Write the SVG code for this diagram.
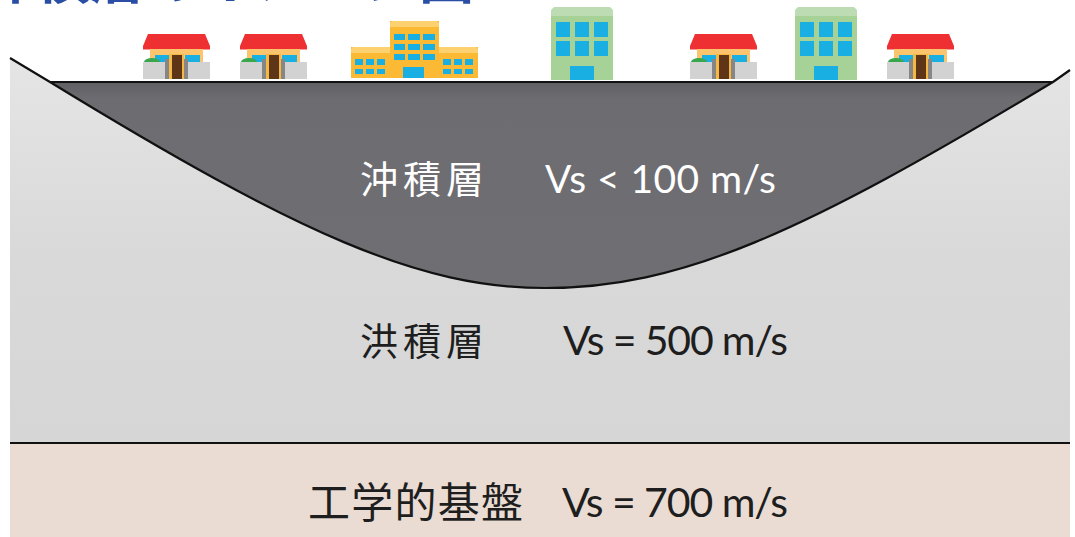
<svg xmlns="http://www.w3.org/2000/svg" width="1075" height="537" viewBox="0 0 1075 537">
  <defs>
    <style>
      .cjk { font-family: "Noto Sans CJK JP", "Noto Sans CJK SC", sans-serif; }
      .lat { font-family: "Lato", "Liberation Sans", sans-serif; }
      .light { fill: #ffffff; }
      .dark { fill: #1e1e1e; }
      .win { fill: #1aafe3; }
      .edge { fill: none; stroke: #111111; stroke-width: 2.2; stroke-linejoin: round; }
    </style>
    <linearGradient id="gravel" x1="0" y1="0" x2="0" y2="1">
      <stop offset="0" stop-color="#e5e5e5"/>
      <stop offset="0.5" stop-color="#d9d9d9"/>
      <stop offset="1" stop-color="#d6d6d6"/>
    </linearGradient>
    <linearGradient id="silt" x1="0" y1="0" x2="0" y2="1">
      <stop offset="0" stop-color="#5f5e63"/>
      <stop offset="0.08" stop-color="#6d6c71"/>
      <stop offset="1" stop-color="#6f6e73"/>
    </linearGradient>

    <!-- detached house, 67 x 45 -->
    <symbol id="house" viewBox="0 0 67 45" width="67" height="45">
      <polygon points="5,0 62,0 67,12 67,15.5 0,15.5 0,12" fill="#ee3032"/>
      <rect x="7" y="15" width="53" height="14" fill="#fcc46c"/>
      <rect x="12" y="21" width="14" height="8" class="win"/>
      <rect x="42" y="21" width="15" height="8" class="win"/>
      <ellipse cx="9" cy="28" rx="8" ry="4" fill="#3aa64e"/>
      <rect x="0" y="28" width="67" height="17" fill="#d2d2d2"/>
      <rect x="22" y="25" width="5" height="20" fill="#868686"/>
      <rect x="40" y="25" width="5" height="20" fill="#868686"/>
      <rect x="26" y="20" width="15" height="25" fill="#f5b845"/>
      <rect x="29" y="21" width="10" height="24" fill="#5e3517"/>
    </symbol>

    <!-- office block, 62 x 73 -->
    <symbol id="office" viewBox="0 0 62 73" width="62" height="73">
      <polygon points="3,0 59,0 62,3 62,9 0,9 0,3" fill="#bddcb3"/>
      <rect x="0" y="9" width="62" height="64" fill="#a6d197"/>
      <rect x="5" y="15" width="14" height="15" class="win"/>
      <rect x="24" y="15" width="14" height="15" class="win"/>
      <rect x="43" y="15" width="14" height="15" class="win"/>
      <rect x="5" y="34" width="14" height="15" class="win"/>
      <rect x="24" y="34" width="14" height="15" class="win"/>
      <rect x="43" y="34" width="14" height="15" class="win"/>
      <rect x="19" y="59" width="24" height="14" class="win"/>
    </symbol>
  </defs>

  <!-- heading, running off the top edge -->
  <text id="heading" class="cjk" x="-20" y="-2" font-size="55" font-weight="700" fill="#2a4da5">沖積層のイメージ図</text>

  <!-- ground section -->
  <g id="layer-diluvium">
    <polygon points="10,58 50,82 1053,82 1070,70 1070,443 10,443" fill="url(#gravel)"/>
  </g>
  <g id="layer-alluvium">
    <path d="M50,82 L1053,82 C800,235 680,288 545,288 C420,288 300,235 50,82 Z" fill="url(#silt)"/>
  </g>
  <g id="layer-bedrock">
    <rect x="10" y="443" width="1060" height="94" fill="#eadcd3"/>
  </g>

  <!-- boundaries -->
  <g id="boundaries">
    <path class="edge" d="M10,58 L50,82 C300,235 420,288 545,288 C680,288 800,235 1053,82 L1070,70"/>
    <line class="edge" x1="50" y1="82" x2="1053" y2="82"/>
    <line class="edge" x1="10" y1="443" x2="1070" y2="443" stroke-width="2.6"/>
  </g>

  <!-- buildings on the surface -->
  <g id="house-1"><use href="#house" x="143" y="34"/></g>
  <g id="house-2"><use href="#house" x="240" y="34"/></g>
  <g id="school">
    <rect x="390" y="21" width="49" height="57" fill="#fbb934"/>
    <polygon points="392,21 437,21 439,23 439,27 390,27 390,23" fill="#fdd170"/>
    <rect x="351" y="47" width="39" height="31" fill="#fbb934"/>
    <polygon points="353,47 390,47 390,53 351,53 351,49" fill="#fdd170"/>
    <rect x="439" y="47" width="39" height="31" fill="#fbb934"/>
    <polygon points="439,47 476,47 478,49 478,53 439,53" fill="#fdd170"/>
    <g class="win">
      <rect x="394" y="34" width="11" height="6"/><rect x="408" y="34" width="12" height="6"/><rect x="423" y="34" width="12" height="6"/>
      <rect x="394" y="44" width="11" height="6"/><rect x="408" y="44" width="12" height="6"/><rect x="423" y="44" width="12" height="6"/>
      <rect x="394" y="54" width="11" height="6"/><rect x="408" y="54" width="12" height="6"/><rect x="423" y="54" width="12" height="6"/>
      <rect x="355" y="59" width="8" height="6"/><rect x="366" y="59" width="8" height="6"/><rect x="377" y="59" width="8" height="6"/>
      <rect x="355" y="69" width="8" height="5"/><rect x="366" y="69" width="8" height="5"/><rect x="377" y="69" width="8" height="5"/>
      <rect x="443" y="59" width="8" height="6"/><rect x="454" y="59" width="8" height="6"/><rect x="465" y="59" width="8" height="6"/>
      <rect x="443" y="69" width="8" height="5"/><rect x="454" y="69" width="8" height="5"/><rect x="465" y="69" width="8" height="5"/>
      <rect x="403" y="67" width="21" height="11"/>
    </g>
  </g>
  <g id="office-1"><use href="#office" x="551" y="7"/></g>
  <g id="house-3"><use href="#house" x="690" y="34"/></g>
  <g id="office-2"><use href="#office" x="795" y="7"/></g>
  <g id="house-4"><use href="#house" x="887" y="34"/></g>

  <!-- layer labels -->
  <g id="label-alluvium">
    <text class="cjk light" x="360" y="193" font-size="38" textLength="124" lengthAdjust="spacing">沖積層</text>
    <text class="lat light" x="545" y="193" font-size="39" textLength="231" lengthAdjust="spacing">Vs &lt; 100 m/s</text>
  </g>
  <g id="label-diluvium">
    <text class="cjk dark" x="360" y="355" font-size="38" textLength="124" lengthAdjust="spacing">洪積層</text>
    <text class="lat dark" x="563" y="355" font-size="41" textLength="225" lengthAdjust="spacing">Vs = 500 m/s</text>
  </g>
  <g id="label-bedrock">
    <text class="cjk dark" x="308" y="518" font-size="42" textLength="215" lengthAdjust="spacing">工学的基盤</text>
    <text class="lat dark" x="562" y="517" font-size="41" textLength="226" lengthAdjust="spacing">Vs = 700 m/s</text>
  </g>
</svg>
